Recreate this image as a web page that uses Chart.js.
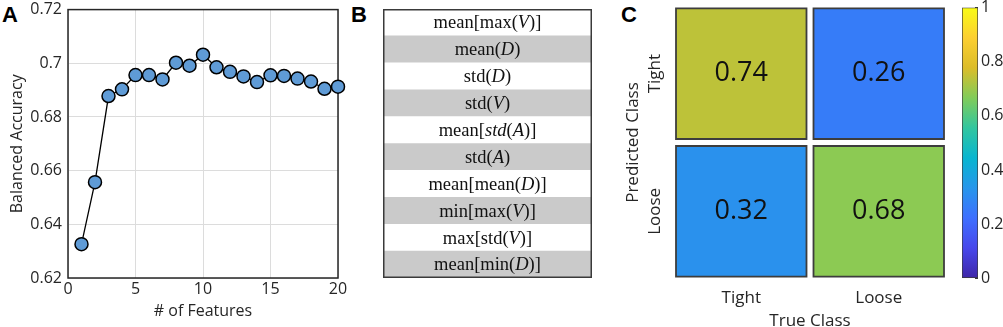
<!DOCTYPE html>
<html>
<head>
  <meta charset="UTF-8" />
  <title>Feature selection and classification</title>
  <script src="https://cdn.jsdelivr.net/npm/chart.js@4.4.1/dist/chart.umd.min.js"></script>
  <style>
    body { margin: 0; background: #fff; width: 1003px; height: 327px; overflow: hidden; position: relative; }
    .panel { position: absolute; }
    .tag { position: absolute; font: bold 22px "Liberation Sans", Arial, sans-serif; line-height: 22px; color: #000; }
  </style>
</head>
<body>
  <div class="tag" style="left:2px; top:4px">A</div>
  <div class="tag" style="left:351px; top:4px">B</div>
  <div class="tag" style="left:621px; top:4px">C</div>

  <div class="panel" style="left:0; top:-6.3px; width:350px; height:333.3px"><canvas id="accChart"></canvas></div>
  <div class="panel" style="left:383px; top:9px; width:209px; height:269px"><canvas id="featChart"></canvas></div>
  <div class="panel" style="left:620px; top:0; width:335px; height:327px"><canvas id="cmChart"></canvas></div>
  <div class="panel" style="left:950px; top:-8.3px; width:53px; height:335.3px"><canvas id="cbChart"></canvas></div>

  <script>
    // panel A
    const featureCount = [1, 2, 3, 4, 5, 6, 7, 8, 9, 10, 11, 12, 13, 14, 15, 16, 17, 18, 19, 20];
    const balancedAccuracy = [0.6326, 0.6557, 0.6878, 0.6903, 0.6956, 0.6956, 0.6940, 0.7002, 0.6991, 0.7032,
                              0.6985, 0.6968, 0.6951, 0.6930, 0.6955, 0.6953, 0.6943, 0.6932, 0.6905, 0.6913];
    const featureTicks = [0, 5, 10, 15, 20];
    const accuracyTicks = [0.62, 0.64, 0.66, 0.68, 0.7, 0.72];

    // panel B (*...* = italic)
    const rankedFeatures = ["mean[max(*V*)]", "mean(*D*)", "std(*D*)", "std(*V*)", "mean[*std*(*A*)]",
                            "std(*A*)", "mean[mean(*D*)]", "min[max(*V*)]", "max[std(*V*)]", "mean[min(*D*)]"];

    // panel C, rows = predicted class, columns = true class
    const classes = ["Tight", "Loose"];
    const confusion = [[0.74, 0.26], [0.32, 0.68]];
    const colorbarTicks = [0, 0.2, 0.4, 0.6, 0.8, 1];
    const parula = ["#3e26a8", "#4747eb", "#3e6fff", "#2796eb", "#08b5d0",
                    "#31c69f", "#81cc59", "#dcbd29", "#fccf30", "#f9fb15"];

    const axisFont = { family: "'Open Sans', sans-serif", size: 16 };
    const ink = "#262626";
    const fmt = v => String(+v.toFixed(2));

    function parulaAt(v) {
      const pos = v * (parula.length - 1);
      const i = Math.min(Math.floor(pos), parula.length - 2);
      const t = pos - i;
      const a = parula[i], b = parula[i + 1];
      const ch = (h, k) => parseInt(h.substr(1 + 2 * k, 2), 16);
      const c = [0, 1, 2].map(k => Math.round(ch(a, k) + (ch(b, k) - ch(a, k)) * t));
      return "rgb(" + c.join(",") + ")";
    }

    const frame = {
      id: "frame",
      beforeDatasetsDraw(chart) {
        const { ctx, chartArea: a } = chart;
        ctx.save();
        ctx.strokeStyle = ink;
        ctx.lineWidth = 1.5;
        ctx.strokeRect(a.left, a.top, a.right - a.left, a.bottom - a.top);
        ctx.restore();
      }
    };

    new Chart(document.getElementById("accChart"), {
      type: "line",
      data: {
        datasets: [{
          data: featureCount.map((n, i) => ({ x: n, y: balancedAccuracy[i] })),
          borderColor: "#000",
          borderWidth: 1.3,
          pointRadius: 6.5,
          pointBackgroundColor: "#5f9bd6",
          pointBorderColor: "#000",
          pointBorderWidth: 1.5,
          clip: false
        }]
      },
      options: {
        responsive: true,
        maintainAspectRatio: false,
        animation: false,
        layout: { padding: { top: 15.6, right: 12 } },
        plugins: { legend: { display: false }, tooltip: { enabled: false } },
        scales: {
          x: {
            type: "linear", min: 0, max: 20,
            afterBuildTicks: s => { s.ticks = featureTicks.map(v => ({ value: v })); },
            afterFit: s => { s.height = 49.3; },
            ticks: { font: axisFont, color: ink, padding: 2, callback: fmt },
            grid: { color: "#dcdcdc", drawTicks: false },
            border: { display: false },
            title: { display: true, text: "# of Features", font: axisFont, color: ink, padding: { top: 0, bottom: 6 } }
          },
          y: {
            type: "linear", min: 0.62, max: 0.72,
            afterBuildTicks: s => { s.ticks = accuracyTicks.map(v => ({ value: v })); },
            afterFit: s => { s.width = 68; },
            ticks: { font: axisFont, color: ink, padding: 6, callback: fmt },
            grid: { color: "#dcdcdc", drawTicks: false },
            border: { display: false },
            title: { display: true, text: "Balanced Accuracy", font: axisFont, color: ink, padding: { top: 8, bottom: 0 } }
          }
        }
      },
      plugins: [frame]
    });

    // panel B: ranked feature table
    function drawRichText(ctx, text, cx, cy) {
      const parts = text.split("*").map((t, i) => ({ t, it: i % 2 === 1 })).filter(p => p.t);
      const fontOf = p => (p.it ? "italic " : "") + "18.5px 'Liberation Serif', serif";
      let total = 0;
      parts.forEach(p => { ctx.font = fontOf(p); p.w = ctx.measureText(p.t).width; total += p.w; });
      let x = cx - total / 2;
      ctx.textAlign = "left";
      ctx.textBaseline = "middle";
      parts.forEach(p => { ctx.font = fontOf(p); ctx.fillText(p.t, x, cy); x += p.w; });
    }

    const tableText = {
      id: "tableText",
      afterDatasetsDraw(chart) {
        const { ctx, chartArea: a } = chart;
        const cx = (a.left + a.right) / 2;
        ctx.save();
        ctx.fillStyle = "#111";
        chart.getDatasetMeta(0).data.forEach((bar, i) => drawRichText(ctx, rankedFeatures[i], cx, bar.y + 1));
        ctx.strokeStyle = "#3a3a3a";
        ctx.lineWidth = 1.5;
        ctx.strokeRect(a.left + 0.75, a.top + 0.75, a.right - a.left - 1.5, a.bottom - a.top - 1.5);
        ctx.restore();
      }
    };

    new Chart(document.getElementById("featChart"), {
      type: "bar",
      data: {
        labels: rankedFeatures,
        datasets: [{
          data: rankedFeatures.map(() => 1),
          backgroundColor: c => (c.dataIndex % 2 ? "#cacaca" : "#ffffff"),
          barPercentage: 1,
          categoryPercentage: 1,
          inflateAmount: 0.3
        }]
      },
      options: {
        indexAxis: "y",
        responsive: true,
        maintainAspectRatio: false,
        animation: false,
        layout: { padding: 0 },
        plugins: { legend: { display: false }, tooltip: { enabled: false } },
        scales: {
          x: { min: 0, max: 1, display: false },
          y: { display: false }
        }
      },
      plugins: [tableText]
    });

    // panel C: confusion matrix
    const cmFont = { family: "'Open Sans', sans-serif", size: 17 };
    const cellData = r => classes.map((c, j) => ({ x: c, y: 1, v: confusion[r][j] }));
    const bottomUp = [1, 0];
    const cellFill = bottomUp.map(r => ({
      data: cellData(r), stack: "fill", xAxisID: "x", yAxisID: "y",
      backgroundColor: c => parulaAt(c.raw.v), inflateAmount: -4.4
    }));
    const cellEdge = bottomUp.map(r => ({
      data: cellData(r), stack: "edge", xAxisID: "x", yAxisID: "y",
      backgroundColor: "#3d3d3d", inflateAmount: -2.6
    }));

    const cellText = {
      id: "cellText",
      afterDatasetsDraw(chart) {
        const ctx = chart.ctx;
        ctx.save();
        ctx.fillStyle = "#111";
        ctx.font = "27px 'Open Sans', sans-serif";
        ctx.textAlign = "center";
        ctx.textBaseline = "middle";
        [0, 1].forEach(d => {
          chart.getDatasetMeta(d).data.forEach((bar, j) => {
            const v = chart.data.datasets[d].data[j].v;
            ctx.fillText(v.toFixed(2), bar.x, (bar.y + bar.base) / 2);
          });
        });
        // predicted-class tick labels, rotated like the reference
        const s = chart.scales.yLab;
        ctx.font = "17px 'Open Sans', sans-serif";
        ctx.fillStyle = ink;
        s.ticks.forEach((t, i) => {
          ctx.save();
          ctx.translate(s.right - 17.5, s.getPixelForTick(i));
          ctx.rotate(-Math.PI / 2);
          ctx.fillText(s.getLabelForValue(t.value), 0, 0);
          ctx.restore();
        });
        ctx.restore();
      }
    };

    new Chart(document.getElementById("cmChart"), {
      type: "bar",
      data: { labels: classes, datasets: [...cellFill, ...cellEdge] },
      options: {
        responsive: true,
        maintainAspectRatio: false,
        animation: false,
        grouped: false,
        barPercentage: 1,
        categoryPercentage: 1,
        layout: { padding: { top: 4.8, right: 7.5 } },
        plugins: { legend: { display: false }, tooltip: { enabled: false } },
        scales: {
          x: {
            type: "category", stacked: true,
            afterFit: s => { s.height = 46.8; },
            ticks: { font: cmFont, color: ink, padding: 0 },
            grid: { display: false },
            border: { display: false },
            title: { display: true, text: "True Class", font: cmFont, color: ink, padding: { top: 0, bottom: -4 } }
          },
          y: { type: "linear", stacked: true, min: 0, max: 2, display: false },
          yLab: {
            type: "category", labels: classes, position: "left", offset: true,
            afterFit: s => { s.width = 52.5; },
            ticks: { display: false },
            grid: { display: false },
            border: { display: false },
            title: { display: true, text: "Predicted Class", font: cmFont, color: ink, padding: { top: 3, bottom: 0 } }
          }
        }
      },
      plugins: [cellText]
    });

    // colorbar
    new Chart(document.getElementById("cbChart"), {
      type: "bar",
      data: {
        labels: [""],
        datasets: [{
          data: [1],
          backgroundColor: c => {
            const a = c.chart.chartArea;
            if (!a) return parula[0];
            const g = c.chart.ctx.createLinearGradient(0, a.bottom, 0, a.top);
            parula.forEach((col, i) => g.addColorStop(i / (parula.length - 1), col));
            return g;
          },
          borderColor: "#3a3a3a",
          borderWidth: 1,
          borderSkipped: false,
          barPercentage: 1,
          categoryPercentage: 1
        }]
      },
      options: {
        responsive: true,
        maintainAspectRatio: false,
        animation: false,
        layout: { padding: { left: 12, top: 15.6, bottom: 49 } },
        plugins: { legend: { display: false }, tooltip: { enabled: false } },
        scales: {
          x: { display: false },
          y: {
            position: "right", min: 0, max: 1,
            afterBuildTicks: s => { s.ticks = colorbarTicks.map(v => ({ value: v })); },
            afterFit: s => { s.width = 25; },
            ticks: { font: axisFont, color: ink, padding: 6, callback: fmt },
            grid: { drawOnChartArea: false, drawTicks: true, tickLength: -3, color: "#3a3a3a" },
            border: { display: false }
          }
        }
      }
    });
  </script>
</body>
</html>
